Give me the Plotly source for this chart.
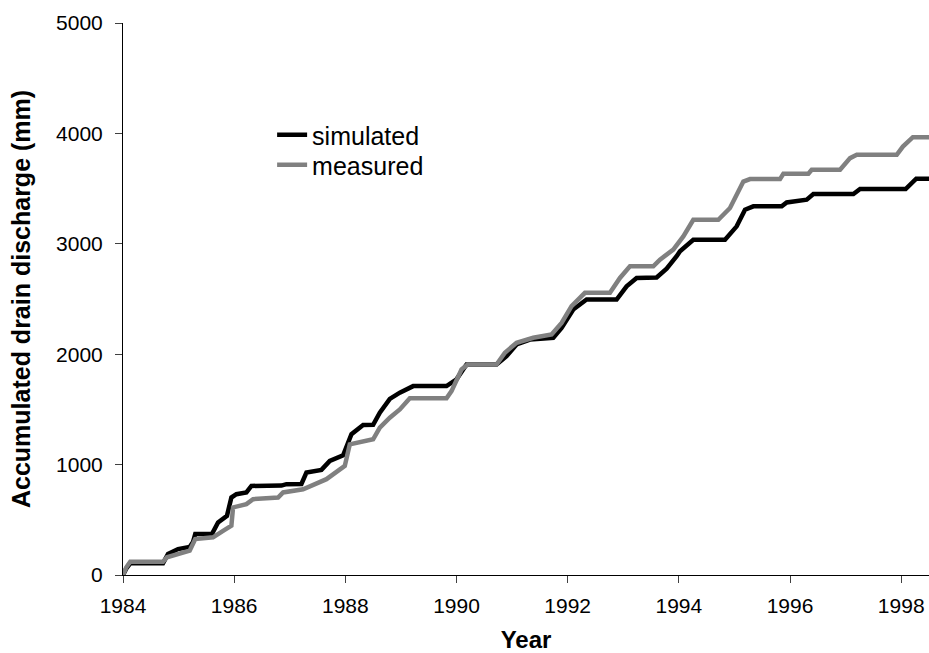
import plotly.graph_objects as go

# Simulated (black) accumulated drain discharge
sim_year = [1984.00, 1984.06, 1984.13, 1984.72, 1984.81, 1984.99, 1985.20, 1985.26, 1985.30, 1985.60,
            1985.71, 1985.87, 1985.95, 1986.04, 1986.22, 1986.31, 1986.85, 1986.94, 1987.21, 1987.30,
            1987.57, 1987.72, 1987.96, 1988.11, 1988.32, 1988.50, 1988.62, 1988.80, 1988.98, 1989.22,
            1989.82, 1990.00, 1990.18, 1990.72, 1990.90, 1991.08, 1991.32, 1991.74, 1991.89, 1992.10,
            1992.34, 1992.88, 1993.06, 1993.24, 1993.60, 1993.78, 1993.96, 1994.02, 1994.26, 1994.83,
            1995.04, 1995.19, 1995.34, 1995.85, 1995.94, 1996.30, 1996.42, 1997.14, 1997.26, 1998.08,
            1998.27, 1998.50]
sim_mm = [0, 60, 106, 106, 190, 235, 253, 300, 371, 371,
          476, 536, 702, 732, 748, 807, 810, 823, 825, 928,
          952, 1033, 1085, 1275, 1359, 1360, 1471, 1595, 1652, 1711,
          1711, 1772, 1907, 1907, 1983, 2088, 2133, 2149, 2239, 2405,
          2495, 2495, 2615, 2691, 2695, 2775, 2887, 2932, 3037, 3037,
          3158, 3309, 3339, 3339, 3375, 3400, 3450, 3450, 3496, 3496,
          3590, 3590]

# Measured (grey) accumulated drain discharge
meas_year = [1984.00, 1984.06, 1984.13, 1984.72, 1984.79, 1985.20, 1985.30, 1985.62, 1985.80, 1985.95,
             1985.98, 1986.22, 1986.34, 1986.79, 1986.88, 1987.24, 1987.66, 1987.99, 1988.08, 1988.50,
             1988.62, 1988.80, 1988.98, 1989.16, 1989.82, 1989.91, 1990.09, 1990.20, 1990.72, 1990.87,
             1991.08, 1991.38, 1991.71, 1991.89, 1992.07, 1992.31, 1992.76, 1992.94, 1993.12, 1993.54,
             1993.66, 1993.90, 1994.08, 1994.26, 1994.71, 1994.92, 1995.16, 1995.28, 1995.82, 1995.88,
             1996.33, 1996.39, 1996.90, 1997.08, 1997.20, 1997.92, 1998.03, 1998.21, 1998.50]
meas_mm = [0, 70, 120, 120, 160, 220, 325, 341, 400, 446,
           612, 642, 687, 702, 748, 777, 868, 988, 1184, 1229,
           1335, 1425, 1500, 1600, 1600, 1666, 1862, 1907, 1907, 2013,
           2104, 2149, 2179, 2284, 2435, 2556, 2556, 2691, 2796, 2796,
           2857, 2947, 3067, 3218, 3218, 3324, 3564, 3586, 3586, 3634,
           3634, 3670, 3670, 3776, 3806, 3806, 3881, 3966, 3966]

x_ticks = [1984, 1986, 1988, 1990, 1992, 1994, 1996, 1998]
y_ticks = [0, 1000, 2000, 3000, 4000, 5000]

FONT = "Liberation Sans, Arial, sans-serif"

fig = go.Figure()
fig.add_trace(go.Scatter(x=sim_year, y=sim_mm, mode="lines", name="simulated", legend="legend",
                         line=dict(color="black", width=4.5)))
fig.add_trace(go.Scatter(x=meas_year, y=meas_mm, mode="lines", name="measured", legend="legend2",
                         line=dict(color="#808080", width=4.5)))

axis_common = dict(showgrid=False, zeroline=False, showline=True, linecolor="black", linewidth=1,
                   ticks="outside", ticklen=7, tickcolor="#404040", tickwidth=1,
                   tickfont=dict(family=FONT, size=21, color="black"))

legend_common = dict(xanchor="left", yanchor="middle", bgcolor="rgba(0,0,0,0)",
                     font=dict(family=FONT, size=25, color="black"))

fig.update_layout(
    width=929, height=653,
    margin=dict(l=123, r=0, t=23, b=78),
    paper_bgcolor="white", plot_bgcolor="white",
    font=dict(family=FONT, color="black"),
    xaxis=dict(range=[1984, 1998.5], tickvals=x_ticks, ticktext=[str(v) for v in x_ticks],
               title=dict(text="<b>Year</b>", font=dict(family=FONT, size=24), standoff=19),
               ticklabelstandoff=5,
               **axis_common),
    yaxis=dict(range=[0, 5000], tickvals=y_ticks, ticktext=[str(v) for v in y_ticks],
               title=dict(text="<b>Accumulated drain discharge (mm)</b>", font=dict(family=FONT, size=25),
                          standoff=18),
               ticklabelstandoff=8,
               **axis_common),
    legend=dict(x=0.185, y=(575 - 135) / 552, **legend_common),
    legend2=dict(x=0.185, y=(575 - 165) / 552, **legend_common),
    showlegend=True,
)

fig.write_html("out.html")
